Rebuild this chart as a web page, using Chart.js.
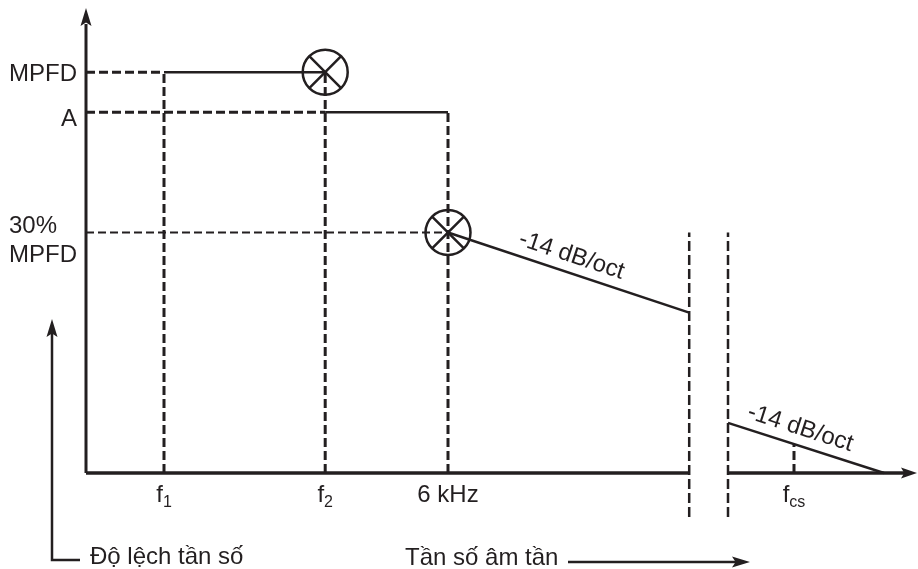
<!DOCTYPE html>
<html>
<head>
<meta charset="utf-8">
<script src="https://cdn.jsdelivr.net/npm/chart.js@4.4.1/dist/chart.umd.min.js"></script>
<style>
  html, body { margin: 0; padding: 0; background: #fff; }
  #wrap { width: 918px; height: 569px; }
</style>
</head>
<body>
<div id="wrap"><canvas id="c"></canvas></div>
<script>
// diagram units: x = frequency position, y = deviation level
const X_MAX = 104;
const Y_MAX = 116;

const tickX = [9.75, 29.9, 45.25, 88.5];
const tickMain = ["f", "f", "6 kHz", "f"];
const tickSub = ["1", "2", "", "cs"];

const levelY = [100, 90, 60];            // MPFD, A, 30% MPFD
const levelNames = ["MPFD", "A", "30%|MPFD"];

const markerX = [29.9, 45.25];
const markerY = [100, 60];

const slope1X = [45.25, 75.4];
const slope1Y = [60, 40];
const slope2X = [80.25, 99.75];
const slope2Y = [12.5, 0];
const slopeText = "-14 dB/oct";

const breakX = [75.4, 80.25];
const breakY = [-11, 60];
const fcsTopY = 7.2;

const INK = "#231f20";
const FONT = '"Liberation Sans", Arial, sans-serif';

function seg(xs, ys, width, dash) {
  return {
    data: xs.map((x, i) => ({ x, y: ys[i] })),
    showLine: true,
    pointRadius: 0,
    borderColor: INK,
    borderWidth: width,
    borderDash: dash || [],
    borderCapStyle: "butt",
    clip: false,
  };
}

const DASH = [9, 4];
const datasets = [
  // dashed guides
  seg([0, tickX[0]], [levelY[0], levelY[0]], 3, DASH),
  seg([0, tickX[1]], [levelY[1], levelY[1]], 3, DASH),
  seg([0, tickX[2]], [levelY[2], levelY[2]], 2, [8, 4]),
  seg([tickX[0], tickX[0]], [0, levelY[0]], 3, DASH),
  seg([tickX[1], tickX[1]], [0, levelY[0]], 3, DASH),
  seg([tickX[2], tickX[2]], [0, levelY[1]], 3, DASH),
  seg([breakX[0], breakX[0]], breakY, 2.5, [10, 4]),
  seg([breakX[1], breakX[1]], breakY, 2.5, [10, 4]),
  seg([tickX[3], tickX[3]], [0, fcsTopY], 3, DASH),
  // response
  seg([tickX[0], tickX[1]], [levelY[0], levelY[0]], 2.5),
  seg([tickX[1], tickX[2]], [levelY[1], levelY[1]], 2.5),
  seg(slope1X, slope1Y, 2.5),
  seg(slope2X, slope2Y, 2.5),
  // axes
  seg([0, 0], [0, Y_MAX - 4], 3),
  seg([0, breakX[0]], [0, 0], 3.5),
  seg([breakX[1], X_MAX - 1.5], [0, 0], 3.5),
  // crossed-circle markers
  {
    data: markerX.map((x, i) => ({ x, y: markerY[i] })),
    pointStyle: "circle",
    pointRadius: 22.5,
    pointBorderWidth: 2.5,
    pointBorderColor: INK,
    pointBackgroundColor: "rgba(0,0,0,0)",
    clip: false,
  },
  {
    data: markerX.map((x, i) => ({ x, y: markerY[i] })),
    pointStyle: "crossRot",
    pointRadius: 22.5,
    pointBorderWidth: 2.5,
    pointBorderColor: INK,
    clip: false,
  },
];

function arrowHead(ctx, x, y, angle, len, half) {
  ctx.save();
  ctx.translate(x, y);
  ctx.rotate(angle);
  ctx.beginPath();
  ctx.moveTo(0, 0);
  ctx.lineTo(-len, -half);
  ctx.lineTo(-len * 0.8, 0);
  ctx.lineTo(-len, half);
  ctx.closePath();
  ctx.fill();
  ctx.restore();
}

function slopeLabel(ctx, xs, ys, sx, sy, t, off) {
  const x1 = sx.getPixelForValue(xs[0]), y1 = sy.getPixelForValue(ys[0]);
  const x2 = sx.getPixelForValue(xs[1]), y2 = sy.getPixelForValue(ys[1]);
  const ang = Math.atan2(y2 - y1, x2 - x1);
  const cx = x1 + (x2 - x1) * t + Math.sin(ang) * off;
  const cy = y1 + (y2 - y1) * t - Math.cos(ang) * off;
  ctx.save();
  ctx.translate(cx, cy);
  ctx.rotate(ang);
  ctx.textAlign = "center";
  ctx.textBaseline = "middle";
  ctx.fillText(slopeText, 0, 0);
  ctx.restore();
}

const annotate = {
  id: "annotate",
  afterDatasetsDraw(chart) {
    const ctx = chart.ctx;
    const sx = chart.scales.x, sy = chart.scales.y;
    ctx.save();
    ctx.fillStyle = INK;
    ctx.strokeStyle = INK;

    // axis arrow heads
    arrowHead(ctx, sx.getPixelForValue(0), sy.getPixelForValue(Y_MAX), -Math.PI / 2, 18, 5.5);
    arrowHead(ctx, sx.getPixelForValue(X_MAX) - 1, sy.getPixelForValue(0), 0, 16, 5.5);

    // level labels on the left
    ctx.font = "24px " + FONT;
    ctx.textAlign = "right";
    ctx.textBaseline = "alphabetic";
    const lx = sx.getPixelForValue(0) - 9;
    ctx.fillText(levelNames[0], lx, sy.getPixelForValue(levelY[0]) + 9);
    ctx.fillText(levelNames[1], lx, sy.getPixelForValue(levelY[1]) + 14);
    const two = levelNames[2].split("|");
    ctx.textAlign = "left";
    const w2 = ctx.measureText(two[1]).width;
    ctx.fillText(two[0], lx - w2, sy.getPixelForValue(levelY[2]) + 1);
    ctx.textAlign = "right";
    ctx.fillText(two[1], lx, sy.getPixelForValue(levelY[2]) + 30);

    // frequency ticks with subscripts
    const base = sy.getPixelForValue(0) + 29;
    tickX.forEach((v, i) => {
      ctx.font = "24px " + FONT;
      const wm = ctx.measureText(tickMain[i]).width;
      ctx.font = "16px " + FONT;
      const ws = tickSub[i] ? ctx.measureText(tickSub[i]).width : 0;
      let x = sx.getPixelForValue(v) - (wm + ws) / 2;
      ctx.textAlign = "left";
      ctx.font = "24px " + FONT;
      ctx.fillText(tickMain[i], x, base);
      if (tickSub[i]) {
        ctx.font = "16px " + FONT;
        ctx.fillText(tickSub[i], x + wm, base + 5);
      }
    });

    // slope labels
    ctx.font = "24px " + FONT;
    slopeLabel(ctx, slope1X, slope1Y, sx, sy, 0.49, 17);
    slopeLabel(ctx, slope2X, slope2Y, sx, sy, 0.43, 17);

    // bottom captions with arrows
    ctx.lineWidth = 2.5;
    ctx.beginPath();
    ctx.moveTo(80, 560);
    ctx.lineTo(52, 560);
    ctx.lineTo(52, 332);
    ctx.stroke();
    arrowHead(ctx, 52, 319, -Math.PI / 2, 18, 5.5);
    ctx.beginPath();
    ctx.moveTo(568, 562);
    ctx.lineTo(738, 562);
    ctx.stroke();
    arrowHead(ctx, 750, 562, 0, 18, 5.5);

    ctx.font = "24px " + FONT;
    ctx.textAlign = "left";
    ctx.fillText("Độ lệch tần số", 90, 564);
    ctx.fillText("Tần số âm tần", 405, 565);
    ctx.restore();
  },
};

new Chart(document.getElementById("c"), {
  type: "scatter",
  data: { datasets },
  options: {
    responsive: true,
    maintainAspectRatio: false,
    devicePixelRatio: 1,
    animation: false,
    events: [],
    layout: { autoPadding: false, padding: { left: 86, right: 0, top: 8, bottom: 96 } },
    plugins: { legend: { display: false }, tooltip: { enabled: false } },
    scales: {
      x: { type: "linear", min: 0, max: X_MAX, display: false },
      y: { type: "linear", min: 0, max: Y_MAX, display: false },
    },
  },
  plugins: [annotate],
});
</script>
</body>
</html>
